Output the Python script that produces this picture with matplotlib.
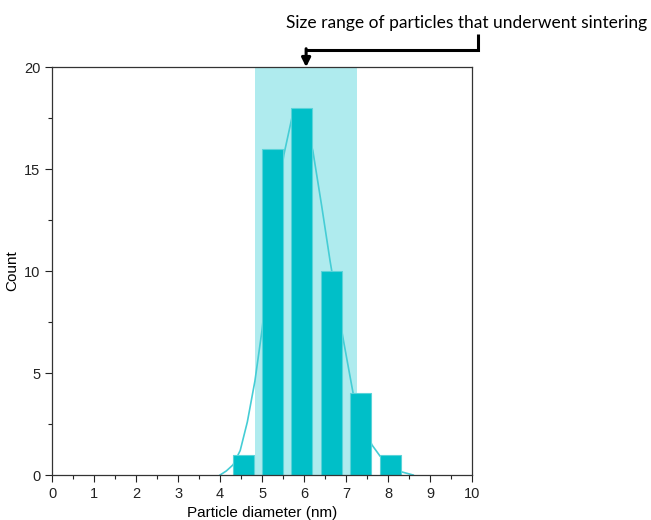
import matplotlib
matplotlib.use("Agg")
import matplotlib.pyplot as plt
from matplotlib.ticker import MultipleLocator

# histogram bars (bin centre, count)
bin_centers = [4.55, 5.25, 5.95, 6.65, 7.35, 8.05]
counts = [1, 16, 18, 10, 4, 1]
bar_width = 0.5

# fitted curve
curve_x = [4.0, 4.15, 4.31, 4.48, 4.65, 4.83, 5.0, 5.25, 5.52, 5.71, 5.95,
           6.21, 6.42, 6.62, 6.93, 7.17, 7.4, 7.62, 7.81, 8.05, 8.33, 8.6]
curve_y = [0.0, 0.2, 0.5, 1.2, 2.6, 4.6, 7.1, 12.0, 15.7, 17.5, 17.9,
           15.9, 13.2, 10.5, 6.7, 4.0, 2.5, 1.47, 0.93, 0.5, 0.15, 0.0]

# sintered size range
span_lo, span_hi = 4.83, 7.26
arrow_x = 6.05
note = "Size range of particles that underwent sintering"

bar_color = "#00BFC8"
shade_color = "#AFEBEE"
curve_color = "#45CDD5"

plt.rcParams["font.family"] = ["Liberation Sans", "DejaVu Sans"]

fig = plt.figure(figsize=(6.51, 5.2), dpi=100)
ax = fig.add_axes([0.080, 0.0865, 0.645, 0.7845])

ax.axvspan(span_lo, span_hi, color=shade_color, lw=0, zorder=0)
ax.plot(curve_x, curve_y, color=curve_color, lw=1.2, zorder=1)
ax.bar(bin_centers, counts, width=bar_width, color=bar_color,
       edgecolor="#5AD3D9", linewidth=0.8, zorder=2)

ax.set_xlim(0, 10)
ax.set_ylim(0, 20)
ax.xaxis.set_major_locator(MultipleLocator(1))
ax.xaxis.set_minor_locator(MultipleLocator(0.5))
ax.yaxis.set_major_locator(MultipleLocator(5))
ax.yaxis.set_minor_locator(MultipleLocator(2.5))
ax.tick_params(which="both", direction="out", top=False, right=False,
               labelsize=10.5, width=0.8, colors="#222222")
ax.tick_params(which="major", length=5)
ax.tick_params(which="minor", length=3)
for s in ax.spines.values():
    s.set_linewidth(0.9)
    s.set_color("#333333")

ax.set_xlabel("Particle diameter (nm)", fontsize=11, labelpad=4)
ax.set_ylabel("Count", fontsize=11, labelpad=3)

# bracket arrow pointing at the shaded range
ax.plot([10.14, 10.14, arrow_x], [21.6, 20.85, 20.85], color="k", lw=2.2,
        clip_on=False, solid_capstyle="butt", solid_joinstyle="miter")
ax.annotate("", xy=(arrow_x, 20.0), xytext=(arrow_x, 20.9),
            arrowprops=dict(arrowstyle="-|>", color="k", lw=2.2,
                            mutation_scale=13, shrinkA=0, shrinkB=0),
            annotation_clip=False)
fig.text(0.717, 0.955, note, ha="center", va="center", fontsize=12.5,
         family=["Lato", "DejaVu Sans"])

fig.savefig("out.png", dpi=100)
